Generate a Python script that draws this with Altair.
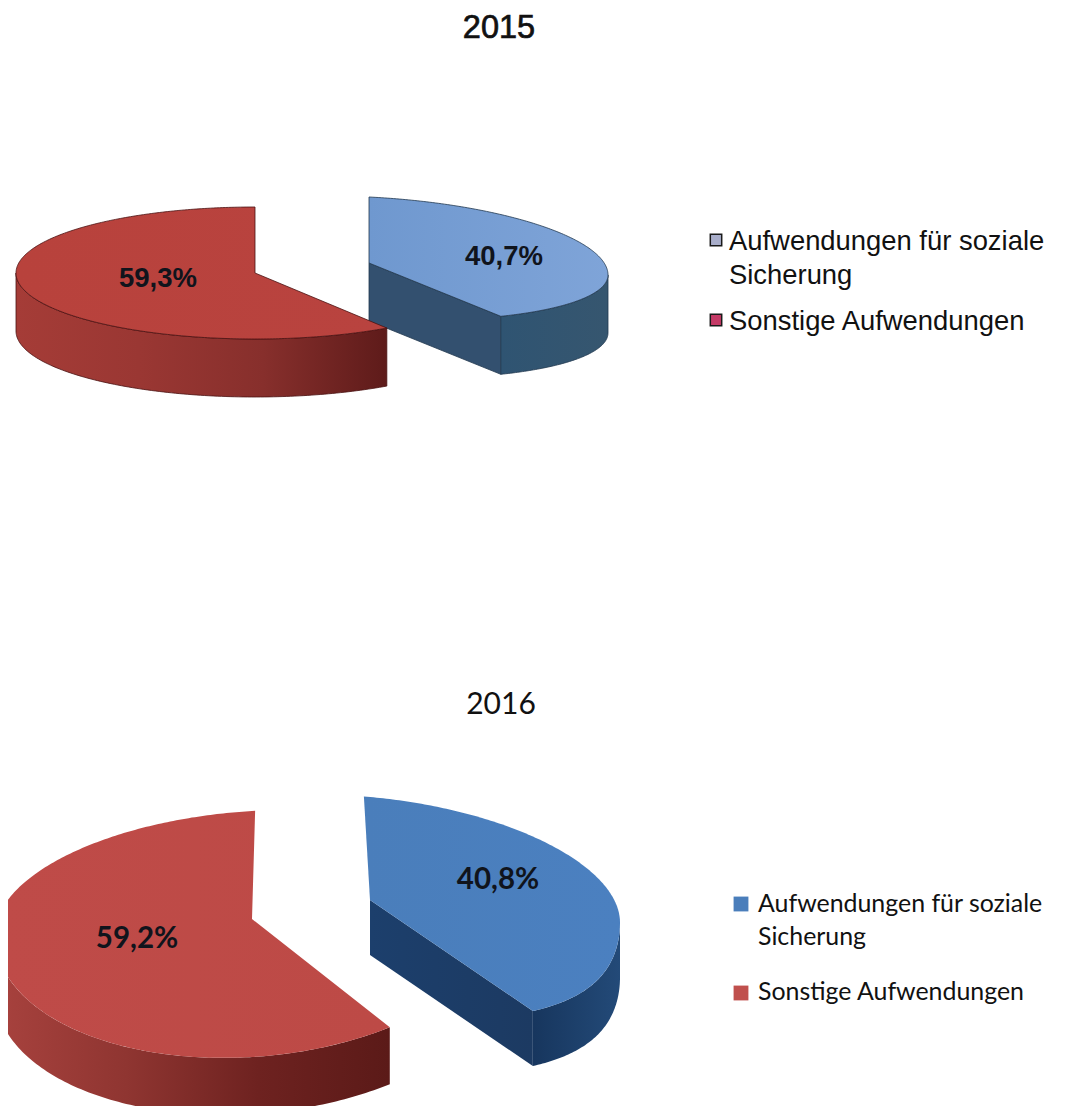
import numpy as np
import pandas as pd
import altair as alt

# ---- values ----
years = ["2015", "2016"]
categories = ["Aufwendungen für soziale\nSicherung", "Sonstige Aufwendungen"]
share_2015 = [40.7, 59.3]
share_2016 = [40.8, 59.2]
labels_2015 = ["40,7%", "59,3%"]
labels_2016 = ["40,8%", "59,2%"]

# ---- layout of the tilted pies (page pixels) ----
W, H = 1061, 1098
X0, Y0 = 8, 8
x_scale = alt.Scale(domain=[X0, X0 + W], range=[0, W], nice=False, zero=False)
y_scale = alt.Scale(domain=[Y0, Y0 + H], range=[0, H], nice=False, zero=False)
AX = dict(axis=None, scale=x_scale)
AY = dict(axis=None, scale=y_scale)


def grad(*cols, x2=1, y2=0):
    n = len(cols) - 1
    return {"gradient": "linear", "x1": 0, "y1": 0, "x2": x2, "y2": y2,
            "stops": [{"offset": i / n, "color": c} for i, c in enumerate(cols)]}


def pt(g, deg):
    t = np.radians(deg)
    s, c = np.sin(t), -np.cos(t)
    b = np.where(c < 0, g["b1"], g["b2"])
    dx = g["a"] * s * (1 + g.get("p", 0) * np.maximum(c, 0) ** 2)
    return g["cx"] + dx, g["cy"] + b * c + g.get("q", 0) * dx


def polygon(xs, ys):
    xs = list(xs) + [xs[0]]
    ys = list(ys) + [ys[0]]
    return pd.DataFrame({"x": xs, "y": ys, "i": range(len(xs))})


def draw(df, fill, stroke=None, sw=0.8):
    kw = dict(fill=fill, clip=True, interpolate="linear")
    if stroke:
        kw.update(stroke=stroke, strokeWidth=sw)
    else:
        kw.update(strokeWidth=0, strokeOpacity=0)
    return alt.Chart(df).mark_line(**kw).encode(
        x=alt.X("x:Q", **AX), y=alt.Y("y:Q", **AY), order=alt.Order("i:Q"))


def pie_layers(shares, blue, red, st):
    blue_end = blue["rot"] + shares[0] * 3.6
    red_start = red["rot"] - shares[1] * 3.6
    out = []
    # blue: cut face
    ex, ey = pt(blue, blue_end)
    d = blue["depth"]
    out.append(draw(polygon([blue["cx"], ex, ex, blue["cx"]], [blue["cy"], ey, ey + d, blue["cy"] + d]),
                    st["blue_cut"], st["edge_blue"]))
    # blue: outer wall
    th = np.linspace(90, blue_end, 80)
    wx, wy = pt(blue, th)
    out.append(draw(polygon(np.r_[wx, wx[::-1]], np.r_[wy, wy[::-1] + d]), st["blue_wall"], st["edge_blue"]))
    # blue: top
    th = np.linspace(blue["rot"], blue_end, 200)
    tx, ty = pt(blue, th)
    out.append(draw(polygon(np.r_[blue["cx"], tx], np.r_[blue["cy"], ty]), st["blue_top"], st["edge_blue"]))
    # red: outer wall
    d = red["depth"]
    th = np.linspace(red_start, -90, 120)
    wx, wy = pt(red, th)
    out.append(draw(polygon(np.r_[wx, wx[::-1]], np.r_[wy, wy[::-1] + d]), st["red_wall"], st["edge_red"]))
    # red: top
    th = np.linspace(red_start, red["rot"], 300)
    tx, ty = pt(red, th)
    out.append(draw(polygon(np.r_[red["cx"], tx], np.r_[red["cy"], ty]), st["red_top"], st["edge_red"]))
    return out


def texts(df, **kw):
    return alt.Chart(df).mark_text(align=kw.pop("align", "left"), baseline="alphabetic", lineBreak="\n", **kw).encode(
        x=alt.X("x:Q", **AX), y=alt.Y("y:Q", **AY), text="t:N")


g15_blue = dict(cx=369, cy=263, a=239, b1=66, b2=56, q=0.05, rot=0, depth=58)
g15_red = dict(cx=255, cy=273, a=239, b1=66, b2=66, rot=0, depth=58)
g16_blue = dict(cx=370, cy=900, a=250, b1=103, b2=117, rot=-1.4, p=0.22, q=0.09, depth=55)
g16_red = dict(cx=252, cy=919, a=257, b1=108, b2=138, rot=0.7, q=-0.06, depth=57)

style15 = dict(
    blue_cut="#33506f", blue_wall=grad("#2f5472", "#36566f"),
    blue_top=grad("#6f98cf", "#7fa4d8"),
    red_wall=grad("#a53c37", "#9a3733", "#872f2c", "#5e1b1a"),
    red_top=grad("#b8423c", "#b9433f"),
    edge_blue="#22384f", edge_red="#4a1212")
style16 = dict(
    blue_cut=grad("#1c3f6c", "#1c3a62"), blue_wall=grad("#17365e", "#234a78"),
    blue_top=grad("#4a7ebb", "#4b80c0"),
    red_wall=grad("#a8423e", "#8f3531", "#6e2220", "#5b1a18"),
    red_top=grad("#bf4b48", "#bd4a46"),
    edge_blue=None, edge_red=None)

layers = pie_layers(share_2015, g15_blue, g15_red, style15) + pie_layers(share_2016, g16_blue, g16_red, style16)

ARIAL = "Liberation Sans"
LATO = "Lato"

layers += [
    texts(pd.DataFrame({"x": [499], "y": [38], "t": [years[0]]}), font=ARIAL, fontSize=32.5,
          align="center", color="#111111", stroke="#111111", strokeWidth=0.7),
    texts(pd.DataFrame({"x": [501], "y": [714], "t": [years[1]]}), font=LATO, fontSize=30,
          align="center", color="#111111"),
    texts(pd.DataFrame({"x": [504, 158], "y": [265, 287], "t": labels_2015}), font=ARIAL, fontSize=27.5,
          fontWeight="bold", align="center", color="#10141c"),
    texts(pd.DataFrame({"x": [498, 137], "y": [889, 948], "t": labels_2016}), font=LATO, fontSize=29.5,
          fontWeight="bold", align="center", color="#10141c"),
    texts(pd.DataFrame({"x": [729, 729], "y": [250, 330], "t": categories}), font=ARIAL, fontSize=27.4,
          lineHeight=34, color="#111111"),
    texts(pd.DataFrame({"x": [758, 758], "y": [912, 1000], "t": categories}), font=LATO, fontSize=24.9,
          lineHeight=33, color="#111111"),
]

sq15 = pd.DataFrame({"x": [716, 716], "y": [240, 320], "c": ["#a9aecb", "#c43a66"]})
sq16 = pd.DataFrame({"x": [741, 741], "y": [904, 993], "c": ["#4a7ebb", "#c0504d"]})
layers.append(alt.Chart(sq15).mark_point(shape="square", filled=True, size=130, stroke="#1a1a1a", strokeWidth=1.5,
                                         strokeOpacity=1, opacity=1).encode(
    x=alt.X("x:Q", **AX), y=alt.Y("y:Q", **AY), fill=alt.Fill("c:N", scale=None)))
layers.append(alt.Chart(sq16).mark_point(shape="square", filled=True, size=220, strokeWidth=0, opacity=1).encode(
    x=alt.X("x:Q", **AX), y=alt.Y("y:Q", **AY), fill=alt.Fill("c:N", scale=None)))

chart = alt.layer(*layers).properties(
    width=W, height=H, padding=0, autosize=alt.AutoSizeParams(type="none"), background="#ffffff"
).configure_view(stroke=None)

chart.save("out.html", embed_options={"renderer": "svg", "actions": False})
